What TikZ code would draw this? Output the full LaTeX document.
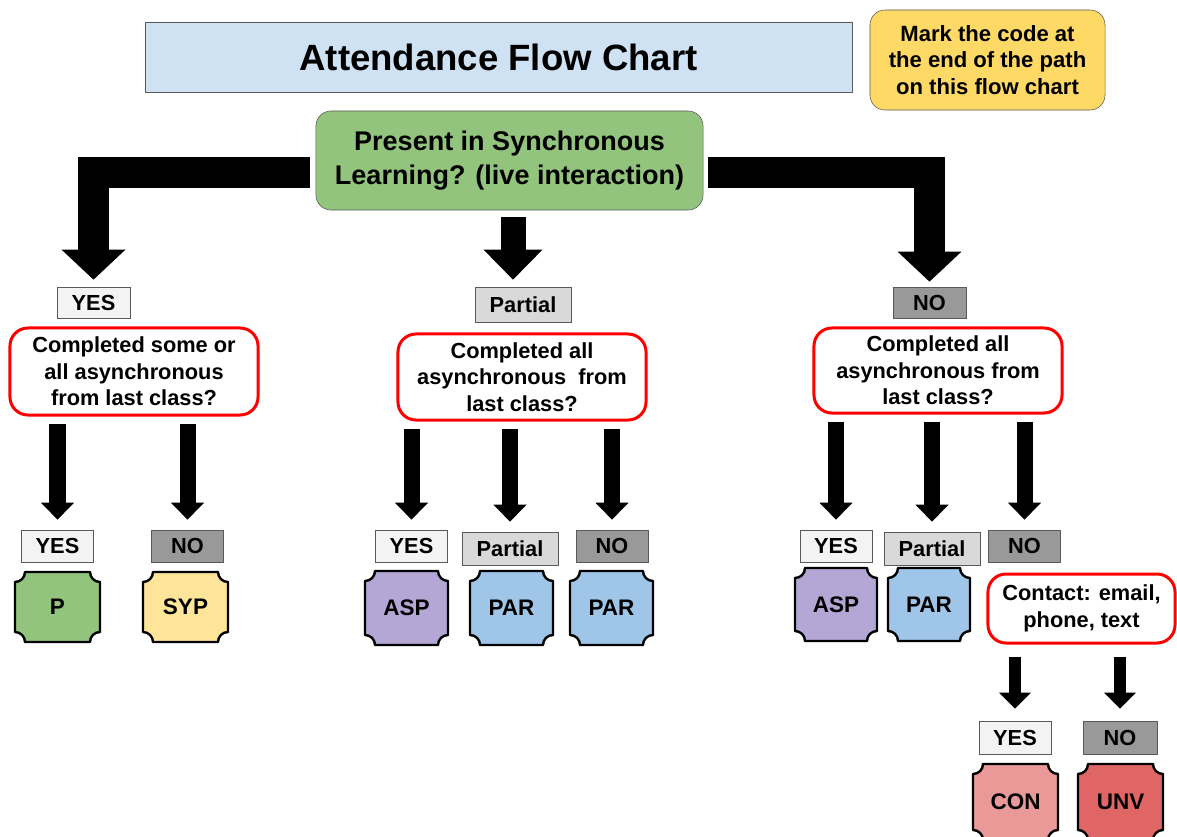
\documentclass[tikz,border=0pt]{standalone}
\usepackage{fontspec}
\setmainfont{Liberation Sans}
\usetikzlibrary{arrows.meta}
\usetikzlibrary{calc}
\definecolor{titleblue}{HTML}{CFE2F3}
\definecolor{notegold}{HTML}{FFD966}
\definecolor{syncgreen}{HTML}{93C47D}
\definecolor{yesgray}{HTML}{F3F3F3}
\definecolor{partgray}{HTML}{D9D9D9}
\definecolor{nogray}{HTML}{999999}
\definecolor{sypyellow}{HTML}{FFE599}
\definecolor{asppurple}{HTML}{B4A7D6}
\definecolor{parblue}{HTML}{9FC5E8}
\definecolor{conred}{HTML}{EA9999}
\definecolor{unvred}{HTML}{E06666}
\definecolor{edgegray}{HTML}{595959}

% plaque with cut corners: name, left, top, right, bottom, fill, code
\newcommand{\codebox}[7]{%
\draw[codeline, fill=#6] (#2,#3+10) arc[start angle=270, end angle=360, radius=0.25cm] -- (#4-10,#3) arc[start angle=180, end angle=270, radius=0.25cm] -- (#4,#5-10) arc[start angle=90, end angle=180, radius=0.25cm] -- (#2+10,#5) arc[start angle=0, end angle=90, radius=0.25cm] -- cycle;
\node[codetext] (#1) at ({(#2+#4)/2},{(#3+#5)/2}) {#7};
}

\tikzset{
  every node/.style={font=\bfseries\fontsize{15.5}{18.8}\selectfont, align=center, inner sep=0pt},
  titlebox/.style={draw=edgegray, fill=titleblue, minimum width=17.675cm, minimum height=1.75cm, font=\bfseries\fontsize{26}{30}\selectfont},
  notebox/.style={draw=edgegray, fill=notegold, rounded corners=0.375cm, minimum width=5.875cm, minimum height=2.5cm, font=\bfseries\fontsize{15.7}{19.1}\selectfont},
  startbox/.style={draw=edgegray, fill=syncgreen, rounded corners=0.375cm, minimum width=9.675cm, minimum height=2.475cm, font=\bfseries\fontsize{19.2}{24}\selectfont},
  askbox/.style={draw=red, line width=0.075cm, fill=white, rounded corners=0.45cm, minimum width=6.2cm},
  tagbox/.style={draw=edgegray, minimum width=1.8cm, minimum height=0.8cm},
  yestag/.style={tagbox, fill=yesgray},
  parttag/.style={tagbox, fill=partgray, minimum width=2.4cm, minimum height=0.825cm},
  notag/.style={tagbox, fill=nogray},
  codeline/.style={draw=black, line width=0.06cm, line join=round},
  codetext/.style={font=\bfseries\fontsize{16}{19}\selectfont},
  bigarrow/.style={line width=0.775cm, -{Triangle[width=1.55cm, length=0.75cm]}},
  midarrow/.style={line width=0.625cm, -{Triangle[width=1.425cm, length=0.75cm]}},
  downarrow/.style={line width=0.4cm, -{Triangle[width=0.8cm, length=0.425cm]}, shorten <=0.175cm, shorten >=0.25cm},
  thinarrow/.style={line width=0.3cm, -{Triangle[width=0.775cm, length=0.4cm]}, shorten <=0.3cm, shorten >=0.3cm}
}

\begin{document}
\begin{tikzpicture}[x=0.025cm, y=-0.025cm]
\useasboundingbox (0,0) rectangle (1177,836);
\clip (0,0) rectangle (1177,836);

\node[titlebox] (title) at (498.5,57) {Attendance Flow Chart};
\node[notebox] (note) at (987.5,60) {Mark the code at\\the end of the path\\on this flow chart};

\node[startbox] (start) at (509.5,160.5) {Present in Synchronous\\Learning? (live interaction)};

% first answer
\node[yestag, minimum width=1.825cm, minimum height=0.775cm] (yes1) at (93.5,302.5) {YES};
\node[parttag, minimum height=0.875cm] (part1) at (523,304.5) {Partial};
\node[notag, minimum width=1.825cm, minimum height=0.775cm] (no1) at (929.5,302.5) {NO};

\draw[bigarrow, shorten >=0.175cm] ($(start.west)+(-6,12)$) -| (yes1.north);
\draw[bigarrow, shorten >=0.125cm] ($(start.east)+(5,12)$) -| (no1.north);
\coordinate (midtop) at ($(start.south)+(3.5,0)$);
\draw[midarrow, shorten <=0.175cm, shorten >=0.175cm] (midtop) -- (midtop |- part1.north);

% second question
\node[askbox, minimum height=2.175cm] (ask1) at (134,371.5) {Completed some or\\all asynchronous\\from last class?};
\node[askbox, minimum height=2.15cm] (ask2) at (522,377) {Completed all\\asynchronous\ \ from\\last class?};
\node[askbox, minimum height=2.125cm] (ask3) at (938,370.5) {Completed all\\asynchronous from\\last class?};

\node[yestag] (yes2) at (57.5,546) {YES};
\node[notag] (no2) at (187.5,546) {NO};
\node[yestag] (yes3) at (411.5,546) {YES};
\node[parttag] (part3) at (510,548.5) {Partial};
\node[notag] (no3) at (612,546) {NO};
\node[yestag] (yes4) at (836,546) {YES};
\node[parttag] (part4) at (932,548.5) {Partial};
\node[notag] (no4) at (1024.5,546) {NO};

\foreach \t in {yes2,no2} \draw[downarrow] (\t.north |- ask1.south) -- (\t.north);
\foreach \t in {yes3,part3,no3} \draw[downarrow] (\t.north |- ask2.south) -- (\t.north);
\foreach \t in {yes4,part4,no4} \draw[downarrow] (\t.north |- ask3.south) -- (\t.north);

% codes
\codebox{cp}{15}{572}{100}{642}{syncgreen}{P}
\codebox{csyp}{143}{572}{228}{642}{sypyellow}{SYP}
\codebox{casp1}{365}{571}{448}{645}{asppurple}{ASP}
\codebox{cpar1}{470}{571}{553}{645}{parblue}{PAR}
\codebox{cpar2}{570}{571}{653}{645}{parblue}{PAR}
\codebox{casp2}{795}{568}{877}{641}{asppurple}{ASP}
\codebox{cpar3}{888}{568}{970}{641}{parblue}{PAR}

% contact
\node[askbox, minimum width=4.675cm, minimum height=1.725cm] (contact) at (1081.5,608.5) {Contact: email,\\phone, text};
\node[yestag, minimum height=0.825cm] (yes5) at (1015,737.5) {YES};
\node[notag, minimum width=1.85cm, minimum height=0.825cm] (no5) at (1120,737.5) {NO};
\foreach \t in {yes5,no5} \draw[thinarrow] (\t.north |- contact.south) -- (\t.north);

\codebox{ccon}{973}{764}{1058}{840}{conred}{CON}
\codebox{cunv}{1078}{764}{1163}{840}{unvred}{UNV}

\end{tikzpicture}
\end{document}
